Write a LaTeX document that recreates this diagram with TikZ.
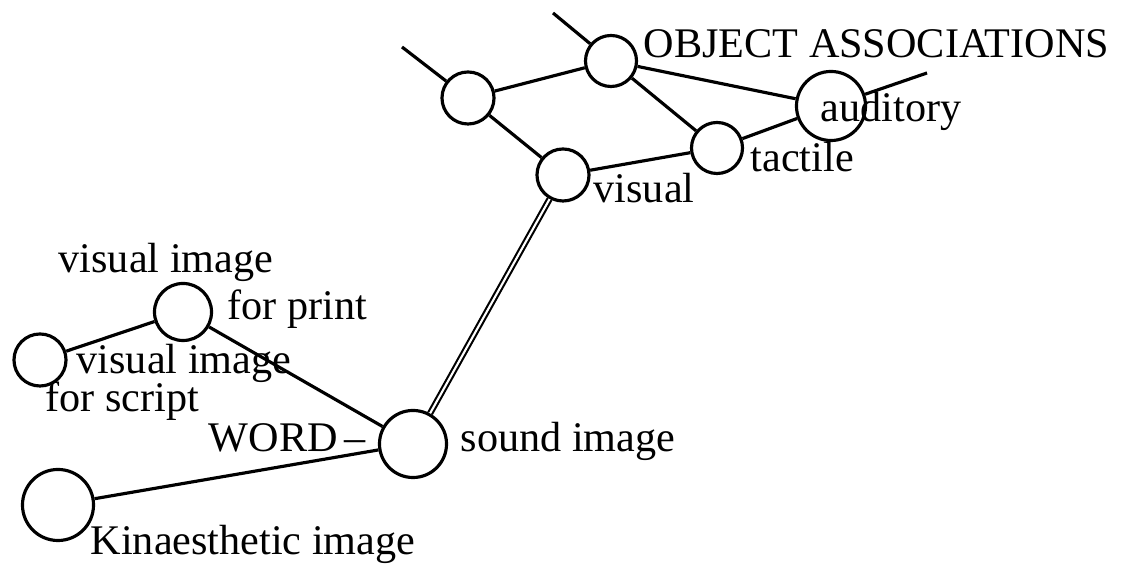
\documentclass[tikz,border=0pt]{standalone}
\usepackage{fontspec}
\setmainfont{Liberation Serif}
\usetikzlibrary{positioning}

\begin{document}
\begin{tikzpicture}[
    x=0.01cm, y=-0.01cm,
    every node/.style={
        inner sep=0pt,
        font=\fontsize{12}{14}\selectfont
    },
    unit/.style={
        circle,
        draw=black,
        line width=0.9pt,
        fill=white
    },
    edge/.style={
        line width=0.9pt
    },
    assoc/.style={
        double,
        line width=0.6pt,
        double distance=0.6pt
    },
    lbl/.style={
        anchor=base west
    }
]
\useasboundingbox (0,0) rectangle (1127,565);

% Object associations
\node[unit, minimum size=0.52cm] (blank) at (468,98) {};
\node[unit, minimum size=0.51cm] (obj) at (611,61) {};
\node[unit, minimum size=0.52cm] (vis) at (563,175) {};
\node[unit, minimum size=0.51cm] (tac) at (717,148) {};
\node[unit, minimum size=0.69cm] (aud) at (831,106) {};

\coordinate (blankend) at (402,47);
\coordinate (objend) at (553,13);
\coordinate (audend) at (927,73);

% Word
\node[unit, minimum size=0.67cm] (sound) at (413,444) {};
\node[unit, minimum size=0.57cm] (print) at (183,312) {};
\node[unit, minimum size=0.52cm] (script) at (40,360) {};
\node[unit, minimum size=0.71cm] (kin) at (58,505) {};

% Edges
\draw[edge] (blankend) -- (blank);
\draw[edge] (objend) -- (obj);
\draw[edge] (audend) -- (aud);

\draw[edge] (blank) -- (obj);
\draw[edge] (blank) -- (vis);
\draw[edge] (obj) -- (tac);
\draw[edge] (obj) -- (aud);
\draw[edge] (vis) -- (tac);
\draw[edge] (tac) -- (aud);

\draw[edge] (script) -- (print);
\draw[edge] (print) -- (sound);
\draw[edge] (kin) -- (sound);

\draw[assoc] (sound) -- (vis);

% Labels
\node[lbl] (objtxt) at (643,58) {OBJECT ASSOCIATIONS};
\node[lbl] (audtxt) at (820,122) {auditory};
\node[lbl] (tactxt) at (750,172) {tactile};
\node[lbl] (vistxt) at (593,203) {visual};

\node[lbl] (printtxt1) at (58,273) {visual image};
\node[lbl] (printtxt2) at (227,320) {for print};
\node[lbl] (scripttxt1) at (76,374) {visual image};
\node[lbl] (scripttxt2) at (45,412) {for script};
\node[lbl] (wordtxt) at (208,452) {WORD\,--};
\node[lbl] (soundtxt) at (460,452) {sound image};
\node[lbl] (kintxt) at (90,555) {Kinaesthetic image};

\end{tikzpicture}
\end{document}
